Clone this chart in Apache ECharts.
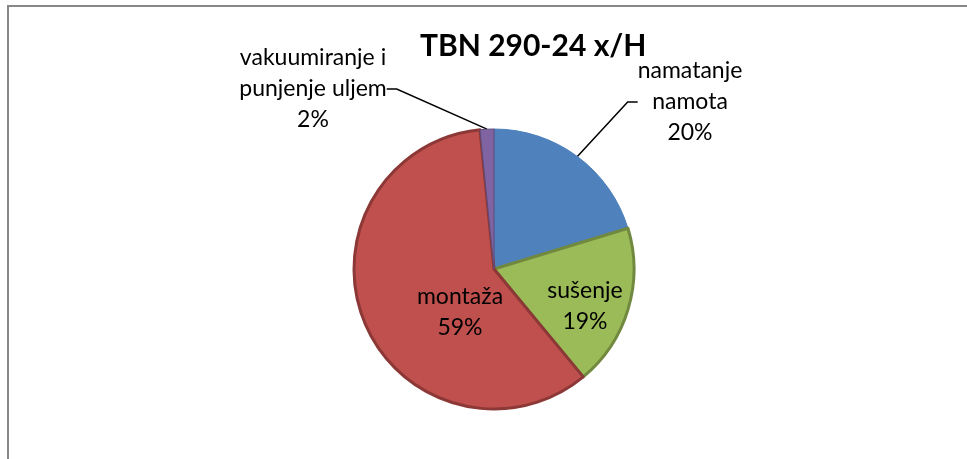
<!DOCTYPE html>
<html lang="hr">
<head>
    <meta charset="UTF-8">
    <script src="https://cdn.jsdelivr.net/npm/echarts@6/dist/echarts.min.js"></script>
    <title>TBN 290-24 x/H</title>
</head>
<body style="margin: 0; background: #ffffff">
<div id="chart" style="width: 967px;height:459px;"></div>

<script>
    // podaci sa grafikona (udio u %)
    const categories = ["namatanje namota", "sušenje", "montaža", "vakuumiranje i punjenje uljem"];
    const labelTexts = ["namatanje\nnamota", "sušenje", "montaža", "vakuumiranje i\npunjenje uljem"];
    const values = [20.3, 18.7, 59.4, 1.6];

    const colors = ["#4F81BD", "#9BBB59", "#C0504D", "#8064A2"];
    const borderColors = ["#4A7EBB", "#71893F", "#8C3836", "#5E4B7B"];
    const borderWidths = [1, 3, 3, 1];
    const insideLabel = [false, true, true, false];
    // mjesto natpisa (sredina bloka teksta)
    const labelPos = [[690, 102], [585, 306], [460, 312], [313, 89]];

    const myChart = echarts.init(document.getElementById('chart'));

    let data = [];
    for (let i = 0; i < categories.length; i++) {
        data.push({
            name: categories[i],
            value: values[i],
            itemStyle: {
                color: colors[i],
                borderColor: borderColors[i],
                borderWidth: borderWidths[i]
            },
            label: {
                position: insideLabel[i] ? 'inside' : 'outside',
                formatter: function (p) {
                    return labelTexts[p.dataIndex] + "\n" + Math.round(p.percent) + "%";
                }
            },
            labelLine: {show: !insideLabel[i]}
        });
    }

    let option = {
        animation: false,
        title: {
            text: "TBN 290-24 x/H",
            left: 415,
            top: 26,
            textStyle: {
                fontFamily: "Lato",
                fontWeight: "bold",
                fontSize: 30,
                color: "#000000"
            }
        },
        graphic: [{
            type: 'rect',
            shape: {x: 8, y: 6, width: 1000, height: 500},
            style: {fill: 'none', stroke: '#878787', lineWidth: 2}
        }],
        series: [{
            type: 'pie',
            center: [494, 269],
            radius: 140,
            startAngle: 90,
            clockwise: true,
            data: data,
            label: {
                fontFamily: "Lato",
                fontSize: 23,
                lineHeight: 31,
                color: "#000000",
                align: 'center'
            },
            labelLine: {
                lineStyle: {color: "#000000", width: 1.5},
                length: 20,
                length2: 10
            },
            labelLayout: function (params) {
                let pos = labelPos[params.dataIndex];
                return {
                    x: pos[0],
                    y: pos[1],
                    align: 'center',
                    verticalAlign: 'middle'
                };
            },
            emphasis: {disabled: true}
        }]
    };

    myChart.setOption(option);
</script>
</body>
</html>
